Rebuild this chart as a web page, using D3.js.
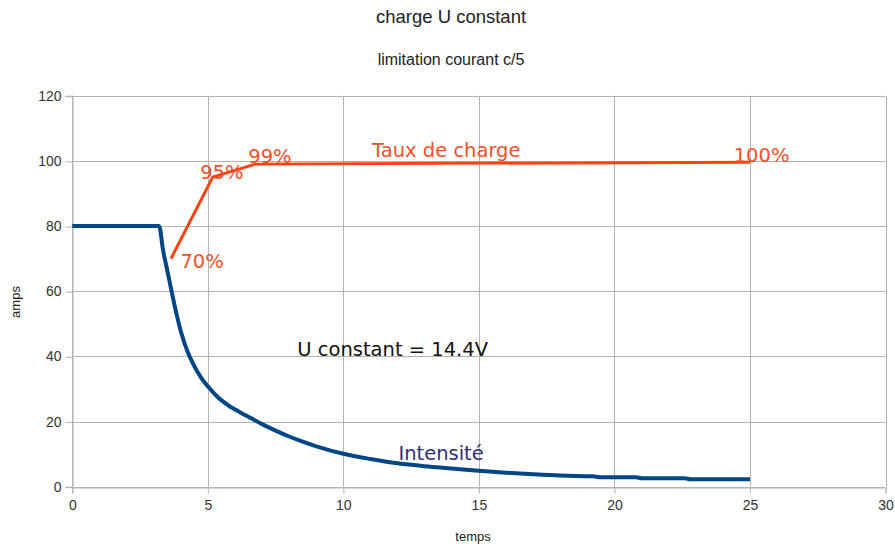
<!DOCTYPE html>
<html><head><meta charset="utf-8">
<script src="https://cdn.jsdelivr.net/npm/d3@7/dist/d3.min.js"></script>
<style>body{margin:0;background:#fff}svg{display:block}</style>
</head><body><svg id="c" width="895" height="547"></svg>
<script>
// ---- data ----
const chartTitle = "charge U constant";
const chartSubtitle = "limitation courant c/5";
const xAxisTitle = "temps";
const yAxisTitle = "amps";

// Intensité (blue)
const timeI = [0, 3.2, 3.35, 3.5, 3.65, 3.85, 4.0, 4.25, 4.5, 4.75, 5.0, 5.35, 5.75, 6.2, 6.6, 7.0, 7.5, 8.0, 8.5, 9.0, 10, 11, 12, 13, 14, 15, 16, 17, 18, 19.2, 19.5, 20.8, 21.0, 22.6, 22.8, 25];
const intensite = [80, 80, 72.5, 66.5, 60.5, 52.8, 47.8, 41.5, 37, 33.5, 30.8, 27.6, 25.0, 22.8, 21.0, 19.2, 17.2, 15.4, 13.8, 12.4, 10.1, 8.5, 7.2, 6.3, 5.6, 4.9, 4.3, 3.8, 3.4, 3.2, 2.9, 2.9, 2.6, 2.6, 2.3, 2.3];

// Taux de charge (orange)
const timeC = [3.64, 5.18, 6.75, 25];
const tauxCharge = [70, 95, 99, 99.6];

// tick labels
const xTicks = [0, 5, 10, 15, 20, 25, 30];
const yTicks = [0, 20, 40, 60, 80, 100, 120];

// annotations (text, x, y in data units)
const annText = ["70%", "95%", "99%", "100%", "Taux de charge", "U constant = 14.4V", "Intensité"];
const annX = [3.99, 4.72, 6.49, 24.4, 11.06, 8.3, 12.03];
const annY = [67.2, 94.5, 99.4, 99.7, 101.1, 40.1, 8.1];
const annKind = ["c", "c", "c", "c", "c", "u", "i"];

// ---- drawing ----
const svg = d3.select("#c");
const x = d3.scaleLinear().domain([0, 30]).range([72.3, 885.5]);
const y = d3.scaleLinear().domain([0, 120]).range([486.7, 95.7]);
const grid = "#b3b3b3";

// gridlines
svg.append("g").selectAll("line").data(yTicks).join("line")
  .attr("x1", x(0)).attr("x2", x(30))
  .attr("y1", d => Math.round(y(d)) + 0.5).attr("y2", d => Math.round(y(d)) + 0.5)
  .attr("stroke", grid).attr("stroke-width", 1);
svg.append("g").selectAll("line").data(xTicks).join("line")
  .attr("y1", y(120)).attr("y2", y(0))
  .attr("x1", d => Math.round(x(d)) + 0.5).attr("x2", d => Math.round(x(d)) + 0.5)
  .attr("stroke", grid).attr("stroke-width", 1);

// axes
const yAxis = d3.axisLeft(y).tickValues(yTicks).tickSize(7).tickPadding(4).tickFormat(d3.format("d"));
const gy = svg.append("g").attr("transform", `translate(${Math.round(x(0)) + 0.5},0)`).call(yAxis);
const xAxis = d3.axisBottom(x).tickValues(xTicks).tickSize(6).tickPadding(7).tickFormat(d3.format("d"));
const gx = svg.append("g").attr("transform", `translate(0,${Math.round(y(0)) + 0.5})`).call(xAxis);
[gx, gy].forEach(g => {
  g.select(".domain").attr("stroke", grid);
  g.selectAll(".tick line").attr("stroke", grid);
  g.selectAll(".tick text").attr("fill", "#333").style("font-family", "Liberation Sans, Arial, sans-serif").style("font-size", "14px");
});
gy.selectAll(".tick line").attr("transform", "translate(0,0.5)");

// lines
const lineI = d3.line().x(d => x(d[0])).y(d => y(d[1])).curve(d3.curveMonotoneX);
const lineC = d3.line().x(d => x(d[0])).y(d => y(d[1]));
svg.append("path").datum(d3.zip(timeI, intensite))
  .attr("d", lineI).attr("fill", "none").attr("stroke", "#004586")
  .attr("stroke-width", 4).attr("stroke-linejoin", "round");
svg.append("path").datum(d3.zip(timeC, tauxCharge))
  .attr("d", lineC).attr("fill", "none").attr("stroke", "#ff420e")
  .attr("stroke-width", 3).attr("stroke-linejoin", "round");

// annotations
const annColor = { c: "#f0502a", u: "#111", i: "#2e2e78" };
svg.append("g").selectAll("text").data(annText.map((t, i) => ({ t, x: annX[i], y: annY[i], k: annKind[i] })))
  .join("text")
  .attr("x", d => x(d.x)).attr("y", d => y(d.y))
  .attr("fill", d => annColor[d.k])
  .style("font-family", "DejaVu Sans, sans-serif").style("font-size", "19.5px")
  .text(d => d.t);

// titles
svg.append("text").attr("x", 451).attr("y", 23).attr("text-anchor", "middle")
  .style("font-family", "Liberation Sans, Arial, sans-serif").style("font-size", "18.5px").attr("fill", "#222")
  .text(chartTitle);
svg.append("text").attr("x", 451).attr("y", 65).attr("text-anchor", "middle")
  .style("font-family", "Liberation Sans, Arial, sans-serif").style("font-size", "16px").attr("fill", "#222")
  .text(chartSubtitle);
svg.append("text").attr("x", 473).attr("y", 541).attr("text-anchor", "middle")
  .style("font-family", "Liberation Sans, Arial, sans-serif").style("font-size", "13px").attr("fill", "#222")
  .text(xAxisTitle);
svg.append("text").attr("transform", "translate(20,302) rotate(-90)").attr("text-anchor", "middle")
  .style("font-family", "Liberation Sans, Arial, sans-serif").style("font-size", "13px").attr("fill", "#222")
  .text(yAxisTitle);
</script>
</body></html>
